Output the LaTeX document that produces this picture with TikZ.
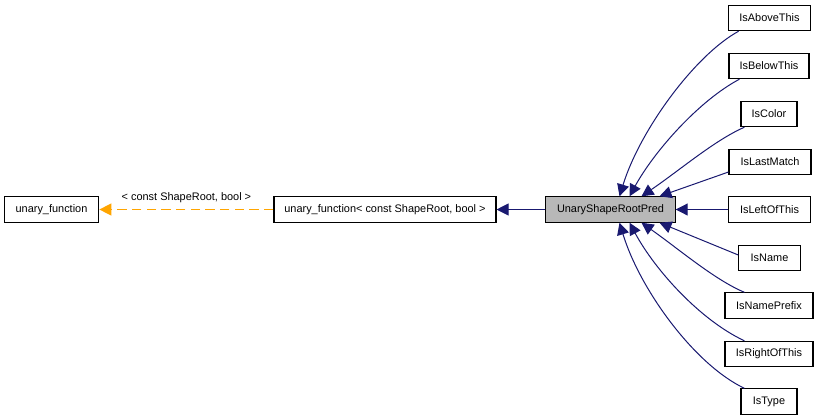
\documentclass[tikz,border=0pt]{standalone}
\usepackage{fontspec}
\setmainfont{Liberation Sans}
\usetikzlibrary{arrows.meta,calc}
\definecolor{edgeblue}{RGB}{25,25,112}
\definecolor{edgeorange}{RGB}{255,165,0}
\tikzset{
  classbox/.style={draw=black, line width=0.8pt, fill=white, inner sep=0pt,
    minimum height=19pt, font=\fontsize{8.2}{10}\selectfont},
  predbox/.style={classbox, fill=black!28},
  inherit/.style={draw=edgeblue, line width=0.75pt,
    -{Triangle[length=9pt,width=9pt,fill=edgeblue]}},
  templ/.style={draw=edgeorange, line width=1pt, dash pattern=on 7pt off 4pt,
    -{Triangle[length=9pt,width=9pt,fill=edgeorange]}}
}
\begin{document}
\begin{tikzpicture}[x=0.75pt,y=-0.75pt]
  \useasboundingbox (0,0) rectangle (819,419);
  % base classes (left)
  \node[classbox, minimum width=71pt] (unaryfn) at (51.5,209.5) {unary\_function};
  \node[classbox, minimum width=166.5pt] (unaryfntpl) at (385,209.5) {unary\_function< const ShapeRoot, bool >};
  \node[predbox, minimum width=97pt] (pred) at (610.5,209.5) {UnaryShapeRootPred};
  % derived classes (right)
  \node[classbox, minimum width=62pt] (above) at (769.5,18) {IsAboveThis};
  \node[classbox, minimum width=60pt] (below) at (769,66) {IsBelowThis};
  \node[classbox, minimum width=42pt] (color) at (769,114) {IsColor};
  \node[classbox, minimum width=61.5pt] (lastmatch) at (770,162) {IsLastMatch};
  \node[classbox, minimum width=61pt] (leftof) at (769.5,209.5) {IsLeftOfThis};
  \node[classbox, minimum width=46pt] (name) at (769.5,258) {IsName};
  \node[classbox, minimum width=66pt] (nameprefix) at (769,305.5) {IsNamePrefix};
  \node[classbox, minimum width=66pt] (rightof) at (769,354) {IsRightOfThis};
  \node[classbox, minimum width=42pt] (type) at (769,401.5) {IsType};
  % template instance
  \draw[templ] (unaryfntpl.west) -- node[above=1pt, font=\fontsize{8.2}{10}\selectfont, text=black] (tplargs) {< const ShapeRoot, bool >} (unaryfn.east);
  \draw[inherit] (pred.west) -- (unaryfntpl.east);
  % inheritance edges
  \draw[inherit] ($(above.south west)+(11,0)$) .. controls (695,55) and (640,130) .. ($(pred.north)+(9,0)$);
  \draw[inherit] ($(below.south west)+(11,0)$) .. controls (700,100) and (655,150) .. ($(pred.north)+(19,0)$);
  \draw[inherit] ($(color.south west)+(4,0)$) .. controls (715,140) and (680,170) .. ($(pred.north)+(31,0)$);
  \draw[inherit] ($(lastmatch.west)+(0,10)$) -- ($(pred.north)+(49,0)$);
  \draw[inherit] (leftof.west) -- (pred.east);
  \draw[inherit] ($(name.west)+(0,-3)$) -- ($(pred.south)+(49,0)$);
  \draw[inherit] ($(nameprefix.north west)+(20,0)$) .. controls (715,280) and (680,250) .. ($(pred.south)+(31,0)$);
  \draw[inherit] ($(rightof.north west)+(20,0)$) .. controls (700,320) and (655,270) .. ($(pred.south)+(19,0)$);
  \draw[inherit] ($(type.north west)+(4,0)$) .. controls (695,365) and (640,290) .. ($(pred.south)+(9,0)$);
\end{tikzpicture}
\end{document}
